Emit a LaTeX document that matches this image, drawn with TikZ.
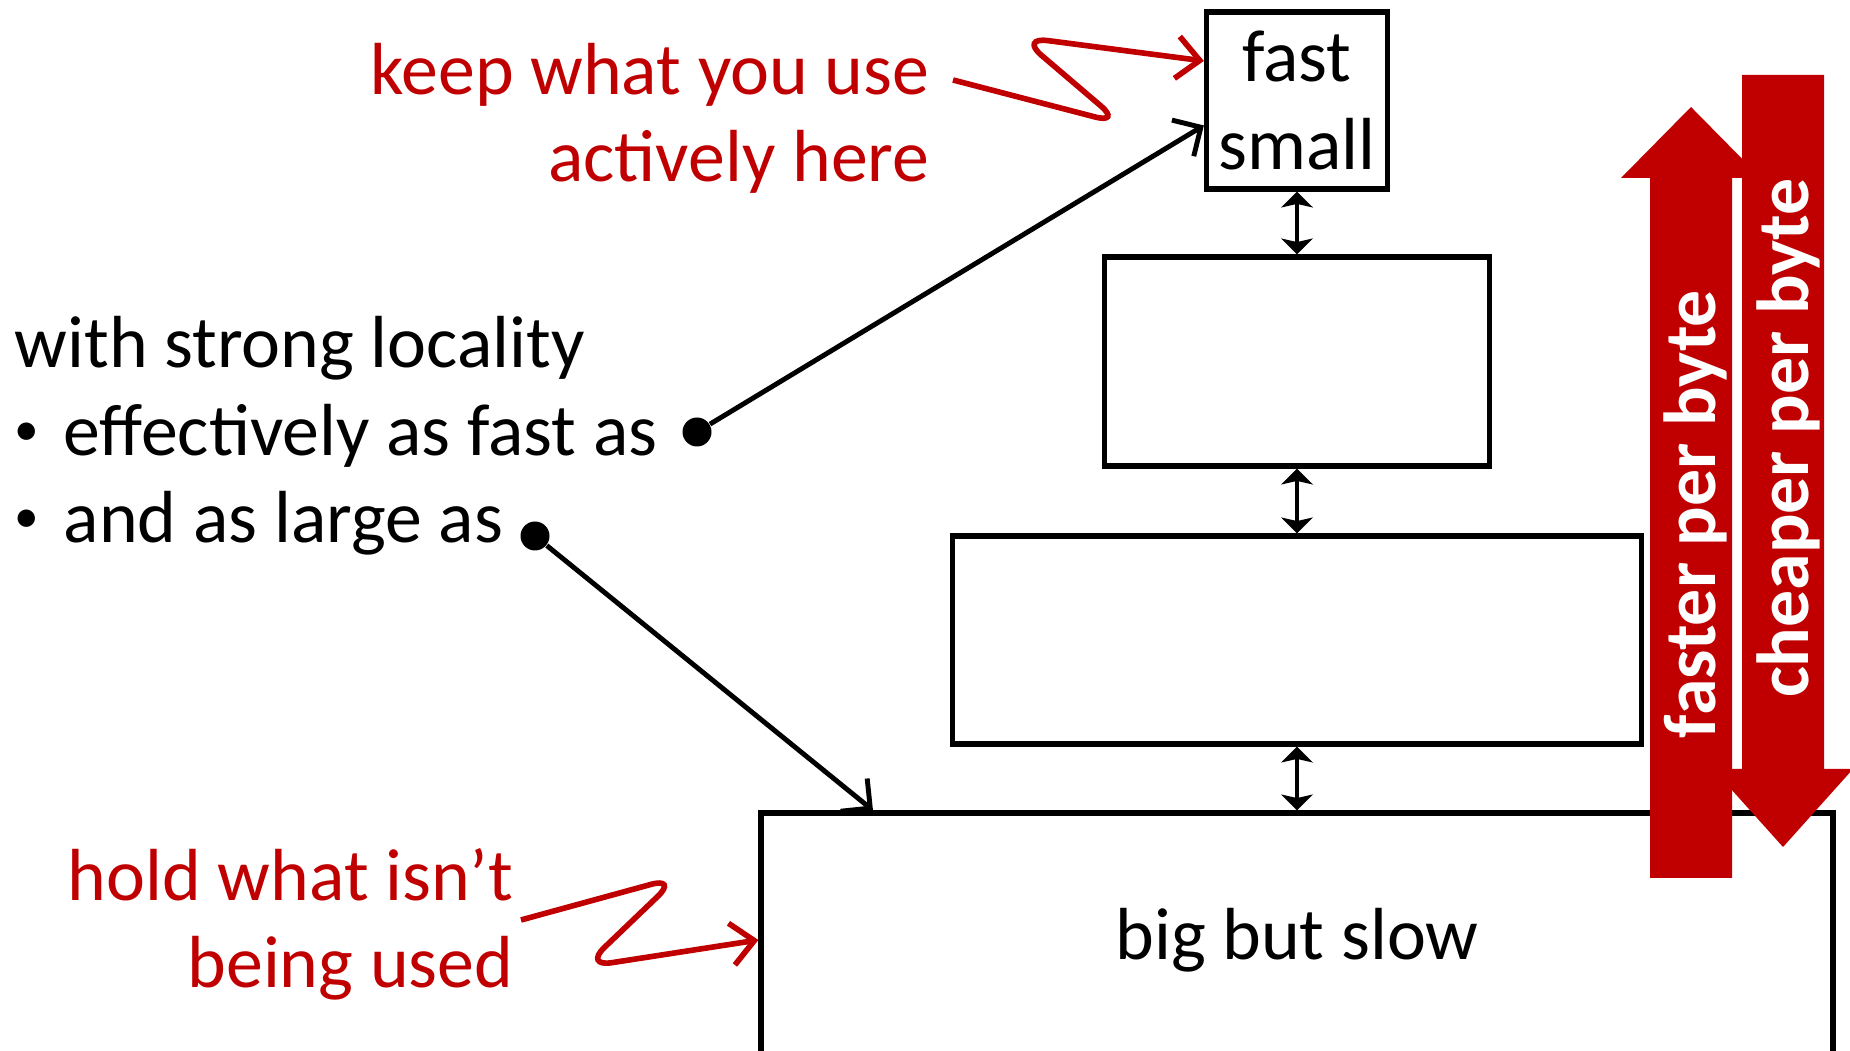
\documentclass[tikz,border=0pt]{standalone}
\usepackage{fontspec}
\setmainfont{Carlito}
\usetikzlibrary{arrows.meta}
\definecolor{accent}{RGB}{192,0,0}
\newcommand{\itemdot}{\makebox[0.49cm][l]{\raisebox{0.1cm}{\fontsize{14}{14}\selectfont\textbullet}}}

\tikzset{
  every node/.style={inner sep=0pt, font=\fontsize{21}{25}\selectfont},
  memlevel/.style={draw, line width=1.5pt, align=center},
  link/.style={line width=1.4pt,
    {Stealth[length=4.5pt,width=9pt,inset=1pt]}-{Stealth[length=4.5pt,width=9pt,inset=1pt]}},
  pointer/.style={line width=1.4pt, -{Straight Barb[length=6pt,width=12pt]}},
  dot/.style={circle, fill, minimum size=0.29cm},
  note/.style={text=accent, align=right},
  squiggle/.style={accent, line width=1.6pt, rounded corners=8pt,
    -{Straight Barb[length=6.5pt,width=12pt]}},
  bigarrow/.style={fill=accent},
  arrowtext/.style={text=white, font=\fontsize{21}{25}\selectfont\bfseries,
    rotate=90, anchor=base}
}

\begin{document}
\begin{tikzpicture}
\useasboundingbox (0,0) rectangle (18.5,10.51);

% levels of the hierarchy, small and fast at the top
\node[memlevel, minimum width=1.81cm, minimum height=1.77cm] (fast) at (12.97,9.505) {fast\\small};
\node[memlevel, minimum width=3.85cm, minimum height=2.09cm] (mid) at (12.97,6.895) {};
\node[memlevel, minimum width=6.89cm, minimum height=2.08cm] (low) at (12.97,4.11) {};
\node[memlevel, minimum width=10.72cm, minimum height=2.54cm] (slow) at (12.97,1.11) {big but slow};

\draw[link] (fast) -- (mid);
\draw[link] (mid) -- (low);
\draw[link] (low) -- (slow);

% speed goes up, cost goes down
\fill[bigarrow] (16.50,1.73) -- (16.50,8.73) -- (16.21,8.73) -- (16.91,9.44)
  -- (17.61,8.73) -- (17.32,8.73) -- (17.32,1.73) -- cycle;
\fill[bigarrow] (17.42,9.76) -- (17.42,2.82) -- (17.13,2.82) -- (17.83,2.04)
  -- (18.53,2.82) -- (18.24,2.82) -- (18.24,9.76) -- cycle;
\node[arrowtext] (faster) at (17.15,5.37) {faster per byte};
\node[arrowtext] (cheaper) at (18.08,6.13) {cheaper per byte};

% locality text on the left
\node[anchor=base west, align=left] (locality) at (0.14,5.08)
  {with strong locality\\\itemdot effectively as fast as\\\itemdot and as large as};
\node[dot] (dfast) at (6.97,6.19) {};
\node[dot] (dlarge) at (5.35,5.15) {};
\draw[pointer] (dfast) -- (fast.195);
\draw[pointer] (dlarge) -- (slow.163.5);

% red notes
\node[note, anchor=base east] (keep) at (9.30,8.69) {keep what you use\\actively here};
\node[note, anchor=base east] (hold) at (5.14,0.63) {hold what isn't\\being used};
\coordinate (keepfrom) at (9.53,9.71);
\coordinate (holdfrom) at (5.21,1.31);
\draw[squiggle] (keepfrom) -- (11.22,9.27) -- (10.20,10.14) -- (fast.157);
\draw[squiggle] (holdfrom) -- (6.78,1.74) -- (5.84,0.84) -- (slow.west);
\end{tikzpicture}
\end{document}
